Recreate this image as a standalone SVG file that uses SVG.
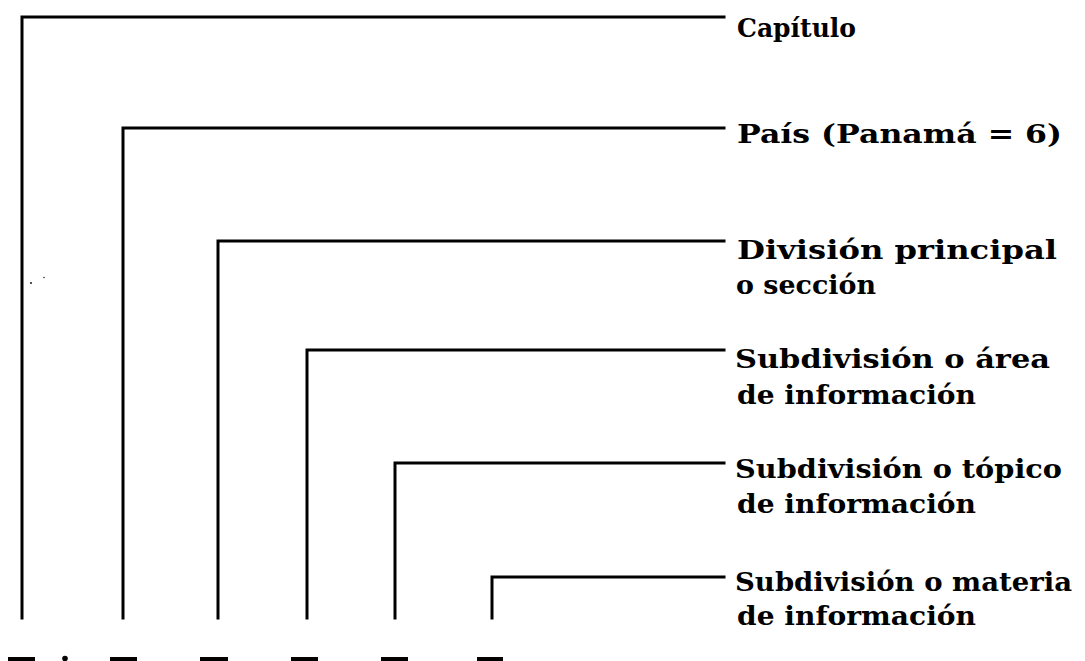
<svg xmlns="http://www.w3.org/2000/svg" width="1085" height="661" viewBox="0 0 1085 661">
<style>
.c{fill:none;stroke:#000;stroke-width:3;stroke-linejoin:miter;stroke-linecap:square}
.t{font-family:"DejaVu Serif","Liberation Serif",serif;font-weight:bold;font-size:26px;fill:#000}
.m{fill:#000}
</style>
<rect width="1085" height="661" fill="#fff"/>
<g id="connectors">
<path class="c" d="M22,618 V17 H724"/>
<path class="c" d="M123,618 V128 H724"/>
<path class="c" d="M218,618 V241 H724"/>
<path class="c" d="M307,618 V350 H724"/>
<path class="c" d="M395,618 V463 H724"/>
<path class="c" d="M492,618 V577 H724"/>
</g>
<g id="n1"><text class="t" x="737" y="37" textLength="119" lengthAdjust="spacingAndGlyphs">Capítulo</text></g>
<g id="n2"><text class="t" x="737" y="143" textLength="325" lengthAdjust="spacingAndGlyphs">País (Panamá = 6)</text></g>
<g id="n3"><text class="t" x="737" y="259" textLength="320" lengthAdjust="spacingAndGlyphs">División principal</text><text class="t" x="736" y="294" textLength="140" lengthAdjust="spacingAndGlyphs">o sección</text></g>
<g id="n4"><text class="t" x="735" y="368" textLength="315" lengthAdjust="spacingAndGlyphs">Subdivisión o área</text><text class="t" x="737" y="404" textLength="239" lengthAdjust="spacingAndGlyphs">de información</text></g>
<g id="n5"><text class="t" x="735" y="478" textLength="327" lengthAdjust="spacingAndGlyphs">Subdivisión o tópico</text><text class="t" x="737" y="513" textLength="239" lengthAdjust="spacingAndGlyphs">de información</text></g>
<g id="n6"><text class="t" x="735" y="591" textLength="337" lengthAdjust="spacingAndGlyphs">Subdivisión o materia</text><text class="t" x="737" y="625" textLength="239" lengthAdjust="spacingAndGlyphs">de información</text></g>
<g id="marks">
<rect class="m" x="8" y="657" width="27" height="4"/>
<circle class="m" cx="65" cy="658.5" r="2.8"/>
<rect class="m" x="110" y="657" width="27" height="4"/>
<rect class="m" x="200" y="657" width="28" height="4"/>
<rect class="m" x="291" y="657" width="27" height="4"/>
<rect class="m" x="381" y="657" width="27" height="4"/>
<rect class="m" x="477" y="657" width="26" height="4"/>
<circle class="m" cx="31" cy="283" r="0.9"/>
<circle class="m" cx="44" cy="277.5" r="0.7"/>
</g>
</svg>
